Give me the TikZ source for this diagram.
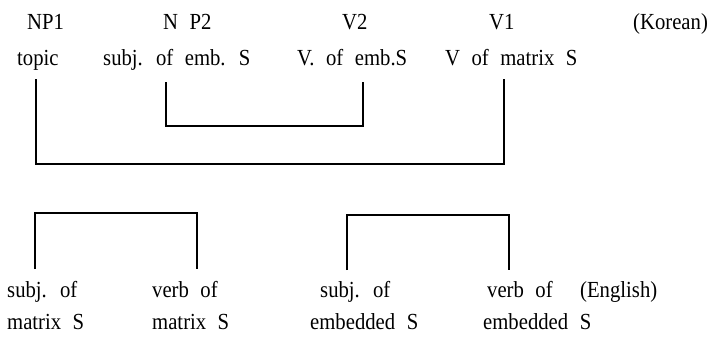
\documentclass[tikz,border=0pt]{standalone}
\usepackage{fontspec}
\setmainfont[FakeStretch=0.9]{Liberation Serif}
\newcommand{\wideword}{\fontsize{23}{27}\selectfont\spaceskip=0.5em plus 0.1em\relax}
\tikzset{
  lbl/.style={anchor=base west, inner sep=0pt, execute at begin node=\wideword},
  brk/.style={line width=1.9pt, line join=miter}
}
\begin{document}
\begin{tikzpicture}[x=1pt,y=-1pt]
\useasboundingbox (0,0) rectangle (713,341);
% Korean row
\node[lbl] (np1) at (27,29) {NP1};
\node[lbl] (np2) at (163,29) {N P2};
\node[lbl] (v2) at (342,29) {V2};
\node[lbl] (v1) at (489,29) {V1};
\node[lbl] (kor) at (633,29) {(Korean)};
\node[lbl] (topic) at (17,65) {topic};
\node[lbl] (subjemb) at (103,65) {subj. of emb. S};
\node[lbl] (vemb) at (297,65) {V. of emb.S};
\node[lbl] (vmat) at (445,65) {V of matrix S};
% English rows
\node[lbl] (e1a) at (7,297) {subj. of};
\node[lbl] (e1b) at (7,329) {matrix S};
\node[lbl] (e2a) at (152,297) {verb of};
\node[lbl] (e2b) at (152,329) {matrix S};
\node[lbl] (e3a) at (320,297) {subj. of};
\node[lbl] (e3b) at (310,329) {embedded S};
\node[lbl] (e4a) at (487,297) {verb of};
\node[lbl] (e4b) at (483,329) {embedded S};
\node[lbl] (eng) at (580,297) {(English)};
% bracket end points
\coordinate (tA) at (36,79);
\coordinate (tB) at (504,79);
\coordinate (sA) at (166,82);
\coordinate (sB) at (363,82);
\coordinate (lA) at (35,269);
\coordinate (lB) at (197,269);
\coordinate (rA) at (347,270);
\coordinate (rB) at (509,270);
% brackets
\draw[brk] (tA) -- ++(0,85) -| (tB);
\draw[brk] (sA) -- ++(0,44) -| (sB);
\draw[brk] (lA) -- ++(0,-56) -| (lB);
\draw[brk] (rA) -- ++(0,-55) -| (rB);
\end{tikzpicture}
\end{document}
